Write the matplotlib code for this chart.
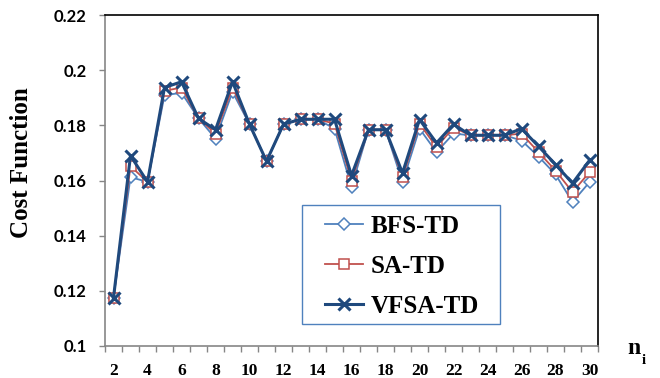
import numpy as np
import matplotlib
matplotlib.use("Agg")
import matplotlib.pyplot as plt
from matplotlib.ticker import FixedLocator, FixedFormatter
from matplotlib.patches import Rectangle

# ---- data ----
n_i = list(range(2, 31))
bfs_td = [0.1175, 0.1612, 0.1595, 0.1909, 0.1918, 0.1825, 0.1752, 0.1921, 0.1804, 0.1670,
          0.1804, 0.1822, 0.1822, 0.1788, 0.1576, 0.1784, 0.1784, 0.1594, 0.1788, 0.1703,
          0.1770, 0.1764, 0.1764, 0.1764, 0.1745, 0.1687, 0.1622, 0.1522, 0.1594]
sa_td = [0.1175, 0.1652, 0.1595, 0.1925, 0.1937, 0.1825, 0.1770, 0.1937, 0.1804, 0.1670,
         0.1804, 0.1822, 0.1822, 0.1806, 0.1600, 0.1784, 0.1784, 0.1612, 0.1806, 0.1721,
         0.1792, 0.1764, 0.1764, 0.1764, 0.1770, 0.1703, 0.1636, 0.1558, 0.1630]
vfsa_td = [0.1175, 0.1690, 0.1595, 0.1937, 0.1958, 0.1825, 0.1784, 0.1958, 0.1804, 0.1670,
           0.1804, 0.1822, 0.1822, 0.1822, 0.1618, 0.1784, 0.1784, 0.1627, 0.1821, 0.1736,
           0.1804, 0.1764, 0.1764, 0.1764, 0.1788, 0.1724, 0.1658, 0.1590, 0.1673]
labels = ["BFS-TD", "SA-TD", "VFSA-TD"]
y_ticks = [0.1, 0.12, 0.14, 0.16, 0.18, 0.2, 0.22]
y_tick_labels = ["0.1", "0.12", "0.14", "0.16", "0.18", "0.2", "0.22"]
x_ticks = list(range(2, 31, 2))

fig = plt.figure(figsize=(6.6, 3.78), dpi=100)
ax = fig.add_axes([105/660, 1-346/378, 493/660, 331/378])

c_bfs = "#4F81BD"
c_sa = "#C0504D"
c_vfsa = "#1F497D"

ax.plot(n_i, bfs_td, color=c_bfs, lw=1.3, marker="D", ms=6, mfc="white", mec=c_bfs, mew=1.1,
        label=labels[0], zorder=3)
ax.plot(n_i, sa_td, color=c_sa, lw=1.3, marker="s", ms=7, mfc="white", mec=c_sa, mew=1.1,
        label=labels[1], zorder=4)
ax.plot(n_i, vfsa_td, color=c_vfsa, lw=2.2, marker="x", ms=9, mec=c_vfsa, mew=2.2,
        label=labels[2], zorder=5)

ax.set_xlim(1.5, 30.5)
ax.set_ylim(0.1, 0.22)

ax.yaxis.set_major_locator(FixedLocator(y_ticks))
ax.yaxis.set_major_formatter(FixedFormatter(y_tick_labels))
ax.xaxis.set_major_locator(FixedLocator(x_ticks))
ax.xaxis.set_minor_locator(FixedLocator(np.arange(1.5, 31, 1)))
ax.tick_params(axis="x", which="major", length=0, pad=12)
ax.tick_params(axis="x", which="minor", length=4.3, width=1, color="#868686", direction="out")
ax.tick_params(axis="y", which="major", length=4.3, width=1, color="#868686", direction="out", pad=9)

for lab in ax.get_yticklabels():
    lab.set_fontfamily("Lato")
    lab.set_fontweight("bold")
    lab.set_fontsize(12)
for lab in ax.get_xticklabels():
    lab.set_fontfamily("Liberation Serif")
    lab.set_fontweight("bold")
    lab.set_fontsize(12.5)

for s in ["left", "bottom"]:
    ax.spines[s].set_color("#868686")
    ax.spines[s].set_linewidth(1.2)
for s in ["top", "right"]:
    ax.spines[s].set_color("black")
    ax.spines[s].set_linewidth(1.2)

fig.text(22/660, 1-163/378, "Cost Function", rotation=90, ha="center", va="center",
         fontfamily="Liberation Serif", fontweight="bold", fontsize=18)
fig.text(627/660, 1-349/378, r"n", ha="left", va="center",
         fontfamily="Liberation Serif", fontweight="bold", fontsize=17)
fig.text(642/660, 1-360/378, r"i", ha="left", va="center",
         fontfamily="Liberation Serif", fontweight="bold", fontsize=10.5)

# legend frame
ax.add_patch(Rectangle((197/493, 22/331), 198/493, 119/331, transform=ax.transAxes,
                       fill=True, facecolor="white", edgecolor=c_bfs, lw=1.0, zorder=6))
leg = ax.legend(loc="upper left", bbox_to_anchor=(220/493, 0.396), frameon=False,
                prop={"family": "Liberation Serif", "weight": "bold", "size": 18},
                handlelength=1.5, handletextpad=0.33, labelspacing=0.68, borderpad=0,
                borderaxespad=0)
leg.set_zorder(7)

fig.savefig("out.png", dpi=100)
